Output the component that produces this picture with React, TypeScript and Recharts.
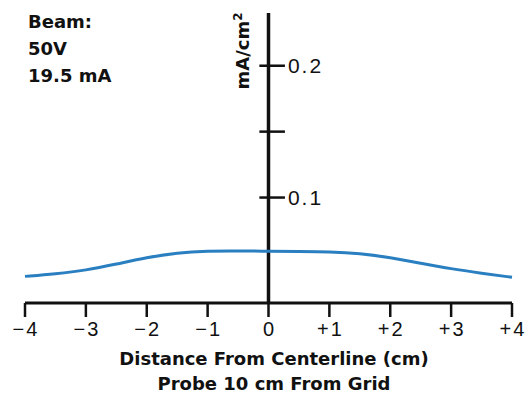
import React from "react";
import { LineChart, Line, XAxis, YAxis, ReferenceLine } from "recharts";

const distances = [-4, -3.5, -3, -2.5, -2, -1.5, -1, -0.5, 0, 0.5, 1, 1.5, 2, 2.5, 3, 3.5, 4];
const density = [0.0402, 0.0421, 0.0448, 0.0495, 0.0545, 0.0581, 0.0595, 0.0596, 0.0592, 0.059, 0.0588, 0.0576, 0.0545, 0.0502, 0.0459, 0.0426, 0.0395];
const xTicks = [-4, -3, -2, -1, 0, 1, 2, 3, 4];
const yTickValues = [0.1, 0.15, 0.2];
const yTickLabels = ["0.1", "", "0.2"];
const beamLines = ["Beam:", "50V", "19.5 mA"];

const data = distances.map((d, i) => ({ x: d, y: density[i] }));

const boldFont = "'DejaVu Sans', sans-serif";
const plainFont = "'Liberation Sans', Arial, sans-serif";

const fmtX = (v: number) => (v < 0 ? `\u2212${Math.abs(v)}` : v > 0 ? `+${v}` : "0");

const XTick = (props: any) => {
  const { x, y, payload } = props;
  return (
    <text x={x + 1} y={y} dy={17} textAnchor="middle" fontSize={20} fill="#111" fontFamily={plainFont} letterSpacing={2}>
      {fmtX(payload.value)}
    </text>
  );
};

const App: React.FC = () => {
  return (
    <div style={{ position: "absolute", left: 0, top: 0, width: 528, height: 394, background: "#fff" }}>
      <LineChart width={528} height={394} data={data} margin={{ top: 13, right: 16, bottom: 61, left: 25 }}>
        <XAxis
          dataKey="x"
          type="number"
          domain={[-4, 4]}
          ticks={xTicks}
          height={30}
          stroke="#111"
          strokeWidth={3}
          tickSize={14}
          tick={<XTick />}
          tickLine={{ stroke: "#111", strokeWidth: 2.5 }}
        />
        <YAxis hide type="number" domain={[0.02, 0.24]} />
        <ReferenceLine x={0} stroke="#111" strokeWidth={3.5} ifOverflow="visible" />
        {yTickValues.map((v, i) => (
          <ReferenceLine
            key={`yt-${i}`}
            segment={[{ x: -0.15, y: v }, { x: 0.27, y: v }]}
            stroke="#111"
            strokeWidth={2.5}
            label={
              yTickLabels[i]
                ? { value: yTickLabels[i], position: "right", offset: 3, fontSize: 21, fill: "#111", fontFamily: plainFont, letterSpacing: 2 }
                : undefined
            }
          />
        ))}
        <Line
          dataKey="y"
          type="basis"
          stroke="#2a7fc1"
          strokeWidth={3}
          dot={false}
          isAnimationActive={false}
        />
      </LineChart>
      <div style={{ position: "absolute", left: 28, top: 8, fontFamily: boldFont, fontWeight: 700, fontSize: 18, color: "#111", lineHeight: "27px" }}>
        {beamLines.map((t) => (
          <div key={t}>{t}</div>
        ))}
      </div>
      <div
        style={{
          position: "absolute",
          left: 242,
          top: 51,
          transform: "translate(-50%, -50%) rotate(-90deg)",
          fontFamily: boldFont,
          fontWeight: 700,
          fontSize: 18,
          color: "#111",
          whiteSpace: "nowrap",
        }}
      >
        mA/cm<sup style={{ fontSize: 12 }}>2</sup>
      </div>
      <div style={{ position: "absolute", left: 0, width: 548, top: 346, textAlign: "center", fontFamily: boldFont, fontWeight: 700, fontSize: 18, color: "#111", lineHeight: "25px" }}>
        <div>Distance From Centerline (cm)</div>
        <div>Probe 10 cm From Grid</div>
      </div>
    </div>
  );
};

export default App;
